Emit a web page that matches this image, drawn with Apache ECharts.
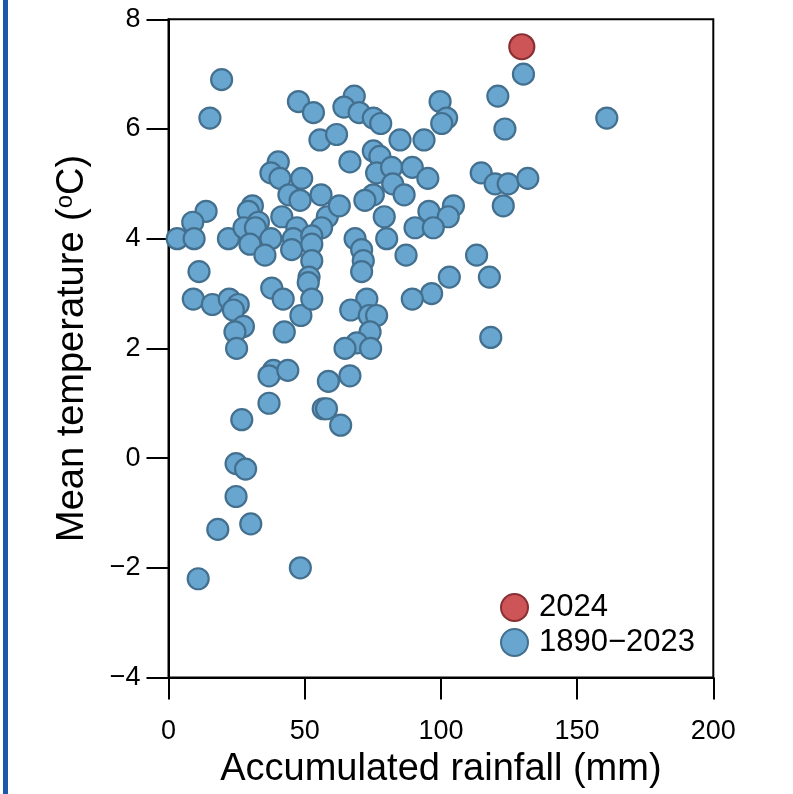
<!DOCTYPE html>
<html>
<head>
<meta charset="utf-8">
<script src="https://cdn.jsdelivr.net/npm/echarts@6/dist/echarts.min.js"></script>
<style>
html,body{margin:0;padding:0;background:#fff;}
#chart{width:793px;height:794px;}
</style>
</head>
<body>
<div id="chart"></div>
<script>
// Historical years 1890–2023: accumulated rainfall (mm) and mean temperature (°C)
const rainfallHist = [
  19.5, 15.2, 47.7, 53.2, 55.6, 61.7, 68.2, 64.4, 70.0, 75.2,
  77.9, 85.0, 93.8, 99.7, 102.1, 100.3, 120.9, 123.5, 130.3, 160.9,
  40.3, 37.6, 40.9, 48.9, 66.6, 75.2, 77.6, 76.4, 81.9, 89.5,
  95.2, 82.3, 114.8, 119.9, 124.7, 131.9,
  44.2, 48.3, 56.0, 58.3, 86.5, 75.2, 72.1, 62.7, 79.2, 95.6,
  104.6, 102.7, 122.9, 13.8, 30.8, 29.3, 41.6,
  8.9, 3.2, 9.4, 22.0, 27.7, 33.0, 31.9, 37.6, 47.1, 45.8,
  56.2, 52.6, 68.5, 80.1, 90.5, 97.2,
  29.9, 35.4, 45.2, 52.6, 52.6, 70.9, 71.5, 87.2, 113.1,
  11.2, 37.9, 51.6, 51.3, 70.9, 103.1, 117.8, 96.6,
  9.1, 16.1, 22.3, 25.6, 23.8, 42.1, 48.6, 52.6, 72.8, 89.5,
  66.9, 73.7, 76.4,
  27.5, 24.4, 25.0, 42.5, 74.0, 69.1, 64.8, 74.2, 118.3,
  38.5, 36.9, 43.8, 36.9, 26.9, 58.7, 56.8, 58.0, 66.6, 63.2,
  24.8, 28.3, 24.8, 18.1, 30.2, 10.9, 48.4
];
const temperatureHist = [
  6.9, 6.2, 6.5, 6.3, 5.8, 5.9, 6.6, 6.4, 6.3, 6.2,
  6.1, 5.8, 5.8, 6.5, 6.2, 6.1, 6.6, 6.0, 7.0, 6.2,
  5.4, 5.2, 5.1, 5.1, 5.4, 5.6, 5.5, 5.2, 5.3, 5.3,
  5.1, 5.0, 5.2, 5.0, 5.0, 5.1,
  4.8, 4.7, 4.8, 4.4, 4.8, 4.8, 4.7, 4.6, 4.4, 4.5,
  4.6, 4.4, 4.6, 4.5, 4.6, 4.5, 4.4,
  4.3, 4.0, 4.0, 4.0, 4.2, 4.3, 4.2, 4.0, 4.2, 4.0,
  4.2, 4.05, 4.0, 4.0, 4.2, 4.2,
  3.9, 3.7, 3.8, 3.9, 3.6, 3.8, 3.6, 3.7, 3.7,
  3.4, 3.1, 3.3, 3.2, 3.4, 3.3, 3.3, 3.0,
  2.9, 2.8, 2.9, 2.8, 2.7, 2.9, 2.6, 2.9, 2.9, 2.9,
  2.7, 2.6, 2.6,
  2.4, 2.3, 2.0, 2.3, 2.3, 2.1, 2.0, 2.0, 2.2,
  1.6, 1.5, 1.6, 1.0, 0.7, 1.4, 0.9, 0.9, 1.5, 0.6,
  -0.1, -0.2, -0.7, -1.3, -1.2, -2.2, -2.0
];
// Year 2024
const rainfall2024 = [129.7];
const temperature2024 = [7.5];

const xTicks = [0, 50, 100, 150, 200];
const yTicks = [-4, -2, 0, 2, 4, 6, 8];
const seriesNames = ['2024', '1890\u22122023'];

const FONT = '"Liberation Sans", Arial, Helvetica, sans-serif';
const chart = echarts.init(document.getElementById('chart'), null, {renderer: 'canvas'});

const histData = rainfallHist.map((r, i) => [r, temperatureHist[i]]);
const data2024 = rainfall2024.map((r, i) => [r, temperature2024[i]]);

const minus = v => (v < 0 ? '\u2212' + Math.abs(v) : String(v));

chart.setOption({
  animation: false,
  backgroundColor: '#ffffff',
  textStyle: {fontFamily: FONT},
  graphic: [{
    type: 'rect', left: 3, top: 0,
    shape: {width: 5, height: 794},
    style: {fill: '#1d58a8'}
  }],
  grid: {
    left: 168.5, right: 79.7, top: 19.3, bottom: 116.5,
    show: true, borderColor: '#000', borderWidth: 2, backgroundColor: 'transparent'
  },
  xAxis: {
    type: 'value',
    min: xTicks[0], max: xTicks[xTicks.length - 1], interval: 50,
    name: 'Accumulated rainfall (mm)',
    nameLocation: 'middle', nameGap: 72,
    nameTextStyle: {fontSize: 38, color: '#000', fontFamily: FONT},
    axisLine: {show: true, onZero: false, lineStyle: {color: '#000', width: 2}},
    axisTick: {show: true, inside: false, length: 22, lineStyle: {color: '#000', width: 2}},
    axisLabel: {fontSize: 27, color: '#000', margin: 41, fontFamily: FONT, formatter: minus},
    splitLine: {show: false}
  },
  yAxis: {
    type: 'value',
    min: yTicks[0], max: yTicks[yTicks.length - 1], interval: 2,
    name: 'Mean temperature ({sup|o}C)',
    nameLocation: 'middle', nameGap: 77, nameRotate: 90,
    nameTextStyle: {
      fontSize: 38, color: '#000', fontFamily: FONT,
      rich: {sup: {fontSize: 24, color: '#000', fontFamily: FONT, verticalAlign: 'top', lineHeight: 30}}
    },
    axisLine: {show: true, onZero: false, lineStyle: {color: '#000', width: 2}},
    axisTick: {show: true, inside: false, length: 22, lineStyle: {color: '#000', width: 2}},
    axisLabel: {fontSize: 27, color: '#000', margin: 28, fontFamily: FONT, formatter: minus},
    splitLine: {show: false}
  },
  legend: {
    orient: 'vertical', left: 495, top: 587,
    itemWidth: 27, itemHeight: 27, itemGap: 4,
    icon: 'circle',
    data: seriesNames,
    textStyle: {fontSize: 31, color: '#000', fontFamily: FONT, padding: [0, 0, 0, 6]}
  },
  series: [
    {
      name: seriesNames[1], type: 'scatter', data: histData,
      symbol: 'circle', symbolSize: 21,
      itemStyle: {color: '#68a5cf', borderColor: '#44708f', borderWidth: 2.2, opacity: 1},
      z: 2
    },
    {
      name: seriesNames[0], type: 'scatter', data: data2024,
      symbol: 'circle', symbolSize: 25,
      itemStyle: {color: '#cd5558', borderColor: '#8a3034', borderWidth: 2.2, opacity: 1},
      z: 3
    }
  ]
});
</script>
</body>
</html>
